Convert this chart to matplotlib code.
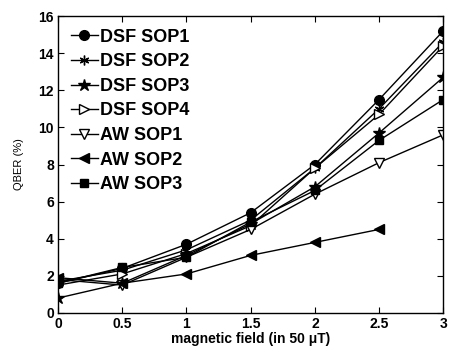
import matplotlib
matplotlib.use('Agg')
import matplotlib.pyplot as plt

plt.rcParams['font.family'] = ['Liberation Sans', 'DejaVu Sans']
plt.rcParams['font.weight'] = 'bold'

field = [0, 0.5, 1, 1.5, 2, 2.5, 3]
dsf_sop1 = [1.6, 2.4, 3.7, 5.4, 8.0, 11.5, 15.2]
dsf_sop2 = [1.7, 2.3, 3.4, 5.0, 7.8, 11.0, 14.6]
dsf_sop3 = [0.8, 1.6, 3.1, 4.8, 6.8, 9.7, 12.7]
dsf_sop4 = [1.5, 2.1, 3.2, 4.7, 7.8, 10.7, 14.4]
aw_sop1 = [1.8, 1.5, 3.0, 4.5, 6.4, 8.1, 9.6]
aw_sop2 = [1.9, 1.6, 2.1, 3.1, 3.8, 4.5]
aw_sop3 = [1.6, 2.45, 3.0, 4.9, 6.6, 9.3, 11.5]

series = [
    ('DSF SOP1', dsf_sop1, 'o', 'k'),
    ('DSF SOP2', dsf_sop2, (6, 2, 0), 'k'),
    ('DSF SOP3', dsf_sop3, '*', 'k'),
    ('DSF SOP4', dsf_sop4, '>', 'w'),
    ('AW SOP1', aw_sop1, 'v', 'w'),
    ('AW SOP2', aw_sop2, '<', 'k'),
    ('AW SOP3', aw_sop3, 's', 'k'),
]

fig = plt.figure(figsize=(4.5, 3.5), dpi=100)
ax = fig.add_axes([0.129, 0.106, 0.856, 0.848])

for name, vals, mk, fc in series:
    ms = 9 if mk == '*' else 7
    if mk == 's':
        ms = 6
    ax.plot(field[:len(vals)], vals, color='k', lw=1, marker=mk, ms=ms,
            mfc=fc, mec='k', label=name)

ax.set_xlim(0, 3)
ax.set_ylim(0, 16)
ax.set_xticks(field)
ax.set_xticklabels(['0', '0.5', '1', '1.5', '2', '2.5', '3'])
ax.set_yticks(range(0, 17, 2))
ax.tick_params(direction='in', top=True, right=True, labelsize=10, length=4, pad=3)
for s in ax.spines.values():
    s.set_linewidth(1)

ax.set_xlabel('magnetic field (in 50 \u03bcT)', fontsize=10, fontweight='bold', labelpad=1)
ax.set_ylabel('QBER (%)', fontsize=8, fontweight='normal', labelpad=10)

ax.legend(loc='upper left', frameon=False, handlelength=1.5,
          handletextpad=0.15, labelspacing=0.42, borderaxespad=0.3,
          prop={'weight': 'bold', 'size': 13})

fig.savefig('out.png', dpi=100)
